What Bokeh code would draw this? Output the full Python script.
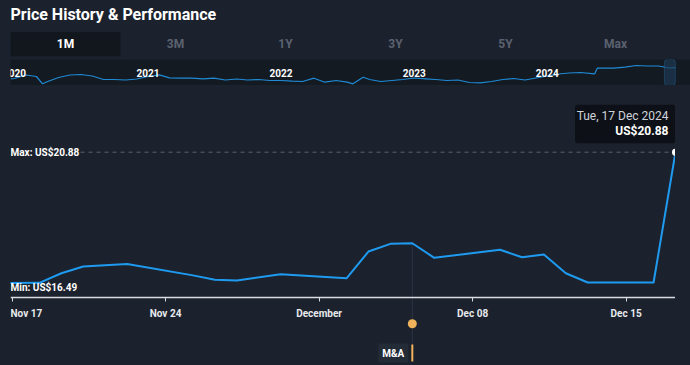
import pandas as pd
from bokeh.plotting import figure
from bokeh.layouts import column
from bokeh.models import Range1d, FactorRange, FixedTicker, Label, BoxAnnotation, LinearAxis
from bokeh.core.properties import value
from bokeh.embed import file_html
from bokeh.resources import INLINE

# ---------------- data ----------------
title_text = "Price History & Performance"
tab_labels = ["1M", "3M", "1Y", "3Y", "5Y", "Max"]
active_tab = "1M"
currency = "US$"

price_dates = ["2024-11-15", "2024-11-18", "2024-11-19", "2024-11-20", "2024-11-21", "2024-11-22",
               "2024-11-25", "2024-11-26", "2024-11-27", "2024-11-29", "2024-12-02", "2024-12-03",
               "2024-12-04", "2024-12-05", "2024-12-06", "2024-12-09", "2024-12-10", "2024-12-11",
               "2024-12-12", "2024-12-13", "2024-12-16", "2024-12-17"]
price_values = [16.47, 16.49, 16.81, 17.04, 17.08, 17.12,
                16.74, 16.59, 16.57, 16.78, 16.64, 17.54,
                17.80, 17.82, 17.33, 17.60, 17.35, 17.44,
                16.81, 16.50, 16.50, 20.88]
window_start = "2024-11-17"

tick_dates = ["2024-11-17", "2024-11-24", "2024-12-01", "2024-12-08", "2024-12-15"]
tick_labels = ["Nov 17", "Nov 24", "December", "Dec 08", "Dec 15"]

event_dates = ["2024-12-05"]
event_labels = ["M&A"]

nav_dates = ["2019-12-21", "2020-01-01", "2020-02-01", "2020-03-01", "2020-03-18", "2020-04-01",
             "2020-05-01", "2020-06-01", "2020-07-01", "2020-08-01", "2020-09-01", "2020-10-01",
             "2020-11-01", "2020-12-01", "2021-01-01", "2021-02-01", "2021-03-01", "2021-04-01",
             "2021-05-01", "2021-06-01", "2021-07-01", "2021-08-01", "2021-09-01", "2021-10-01",
             "2021-11-01", "2021-12-01", "2022-01-01", "2022-02-01", "2022-03-01", "2022-04-01",
             "2022-05-01", "2022-06-01", "2022-07-01", "2022-07-17", "2022-08-14", "2022-09-01",
             "2022-10-01", "2022-11-01", "2022-12-01", "2023-01-01", "2023-02-01", "2023-03-01",
             "2023-04-01", "2023-05-01", "2023-06-01", "2023-07-01", "2023-08-01", "2023-09-01",
             "2023-10-01", "2023-11-01", "2023-12-01", "2024-01-01", "2024-02-01", "2024-03-01",
             "2024-04-01", "2024-05-10", "2024-05-17", "2024-06-01", "2024-07-01", "2024-08-01",
             "2024-09-01", "2024-10-01", "2024-11-01", "2024-12-01", "2024-12-17"]
nav_values = [11.45, 11.70, 13.45, 12.70, 9.05, 10.20,
              12.20, 13.45, 13.70, 12.95, 11.20, 11.20,
              10.95, 11.45, 12.70, 13.55, 12.05, 11.85,
              11.85, 11.55, 11.85, 10.95, 11.45, 10.95,
              11.20, 10.70, 10.70, 10.35, 10.20, 11.85,
              9.85, 10.70, 9.85, 9.05, 12.35, 11.20,
              10.20, 10.70, 11.20, 11.95, 11.55, 11.20,
              10.70, 10.95, 9.70, 9.55, 10.20, 11.20,
              11.70, 10.95, 11.95, 12.95, 13.95, 14.45,
              14.70, 14.05, 16.85, 16.85, 16.85, 17.35,
              18.20, 17.95, 17.95, 16.95, 17.10]
nav_year_labels = ["2020", "2021", "2022", "2023", "2024"]

# ---------------- style ----------------
BG = "#1b222d"
NAV_BG = "#141a22"
FONT = "Roboto"
BLUE = "#1e9bf0"
ORANGE = "#f0b25a"
DAY = 86400000
NO_BORDER = dict(min_border=0, min_border_left=0, min_border_right=0, min_border_top=0, min_border_bottom=0)


def ms(s):
    return int(pd.Timestamp(s).value // 10**6)


price_ms = [ms(d) for d in price_dates]
last_ms = price_ms[-1]
last_val = price_values[-1]
win_ms = ms(window_start)
vis = [v for t, v in zip(price_ms, price_values) if t >= win_ms]
vmax, vmin = max(vis), min(vis)

# ---------------- header (title + tabs) ----------------
HDR_H = 54
hdr = figure(width=660, height=HDR_H, x_range=FactorRange(factors=tab_labels), y_range=Range1d(HDR_H, 0),
             x_axis_location=None, y_axis_location=None, toolbar_location=None, output_backend="svg",
             background_fill_color=BG, border_fill_color=BG, outline_line_color=None, **NO_BORDER)
hdr.xgrid.visible = False
hdr.ygrid.visible = False
hdr.rect(x=[active_tab], y=38.7, width=1, height=24, fill_color="#12161d", line_color=None)
hdr.text(x=tab_labels, y=38.7, text=tab_labels,
         text_color=["#ffffff" if t == active_tab else "#5b6170" for t in tab_labels],
         text_font=value(FONT), text_font_size="12px", text_font_style="bold",
         text_align="center", text_baseline="middle")
hdr.add_layout(Label(x=0, x_units="screen", y=8.5, text=title_text, text_color="#ffffff",
                     text_font=FONT, text_font_size="16px", text_font_style="bold",
                     text_baseline="middle"))

# ---------------- navigator ----------------
NAV_W = 680
nav_start = ms("2019-12-21")
nav_end = nav_start + NAV_W / 133.2 * 365.25 * DAY
nav = figure(width=NAV_W, height=26, x_range=Range1d(nav_start, nav_end), y_range=Range1d(8.2, 21.2),
             x_axis_location=None, y_axis_location=None, toolbar_location=None, output_backend="svg",
             background_fill_color=NAV_BG, border_fill_color=NAV_BG, outline_line_color=None, **NO_BORDER)
nav.xgrid.visible = False
nav.ygrid.visible = False
nav.line([ms(d) for d in nav_dates], nav_values, line_color="#1f8ad6", line_width=1.2)
nav.text(x=[ms(y + "-01-01") for y in nav_year_labels], y=(8.2 + 21.2) / 2, text=nav_year_labels,
         text_color="#ffffff", text_font=value(FONT), text_font_size="10px", text_font_style="bold",
         text_align="center", text_baseline="middle")
nav.add_layout(BoxAnnotation(left=win_ms, right=last_ms, fill_color="#1d3a57", fill_alpha=0.65,
                             line_color="#2b86c8", line_width=1, border_radius=3))

# ---------------- main chart ----------------
MAIN_TOP = 85          # page y of the main figure top
MAIN_H = 278
FRAME_L, FRAME_R = 10, 675
MAX_PY, MIN_PY = 151.7, 282.3
ppx = (vmax - vmin) / (MIN_PY - MAX_PY)


def y_at(py):
    return vmax - (py - MAX_PY) * ppx


x1 = last_ms
x0 = last_ms - 30.32 * DAY


def x_at(px):
    return x0 + (px - FRAME_L) / (FRAME_R - FRAME_L) * (x1 - x0)


p = figure(width=FRAME_R - FRAME_L, height=MAIN_H, x_range=Range1d(x0, x1),
           y_range=Range1d(y_at(MAIN_TOP + MAIN_H), y_at(MAIN_TOP)),
           x_axis_location=None, y_axis_location=None, toolbar_location=None, output_backend="svg",
           background_fill_color=BG, border_fill_color=BG, outline_line_color=None, **NO_BORDER)
p.xgrid.visible = False
p.ygrid.visible = False

axis_y = y_at(297)
tick_ms = [ms(d) - 6 * 3600 * 1000 for d in tick_dates]
ax = LinearAxis(fixed_location=axis_y, ticker=FixedTicker(ticks=tick_ms),
                major_label_overrides={t: l for t, l in zip(tick_ms, tick_labels)},
                axis_line_color="#d9dce1", axis_line_width=1.5,
                major_tick_line_color="#d9dce1", major_tick_in=0, major_tick_out=4,
                minor_tick_line_color=None, major_label_text_color="#e8eaed",
                major_label_text_font=FONT, major_label_text_font_size="10px",
                major_label_text_font_style="bold", major_label_standoff=6)
p.add_layout(ax, "below")

# event marker (behind line)
ev_ms = [ms(d) for d in event_dates]
ev_price = [price_values[price_ms.index(t)] for t in ev_ms]
p.segment(x0=ev_ms, y0=ev_price, x1=ev_ms, y1=y_at(344), line_color="#2c3444", line_width=1)

# max line and hover guide
p.segment(x0=[x_at(80)], y0=[vmax], x1=[last_ms], y1=[vmax], line_color="#5b6373", line_width=1,
          line_dash="4 4")
p.segment(x0=[last_ms], y0=[last_val], x1=[last_ms], y1=[axis_y], line_color="#5b6373", line_width=1,
          line_dash="3 3")

p.line(price_ms, price_values, line_color=BLUE, line_width=2, line_join="round")
p.scatter([last_ms], [last_val], size=7, fill_color="#ffffff", line_color=None)

p.add_layout(Label(x=x0, y=vmax, text=f"Max: {currency}{vmax:.2f}", text_color="#ffffff",
                   text_font=FONT, text_font_size="10px", text_font_style="bold", text_baseline="middle"))
p.add_layout(Label(x=x0, y=y_at(287), text=f"Min: {currency}{vmin:.2f}", text_color="#ffffff",
                   text_font=FONT, text_font_size="10px", text_font_style="bold", text_baseline="middle"))

# event dot + label
p.scatter(ev_ms, [y_at(323.3)] * len(ev_ms), size=9, fill_color=ORANGE, line_color=None)
for t, lab in zip(ev_ms, event_labels):
    p.add_layout(Label(x=t, y=y_at(352.5), x_offset=-4, text=lab, text_color="#ffffff",
                       text_font=FONT, text_font_size="10px", text_font_style="bold",
                       text_align="right", text_baseline="middle",
                       background_fill_color="#232b37", padding=4))
p.segment(x0=ev_ms, y0=y_at(344), x1=ev_ms, y1=y_at(361), line_color=ORANGE, line_width=2)

# tooltip
p.add_layout(BoxAnnotation(left=x_at(574.5), right=last_ms, top=y_at(104.3), bottom=y_at(142.7),
                           fill_color="#0d1117", fill_alpha=1, line_alpha=0, border_radius=3))
p.add_layout(Label(x=last_ms, y=y_at(115.5), x_offset=-7,
                   text=pd.Timestamp(last_ms, unit="ms").strftime("%a, %d %b %Y"),
                   text_color="#cfd3da", text_font=FONT, text_font_size="12px",
                   text_align="right", text_baseline="middle"))
p.add_layout(Label(x=last_ms, y=y_at(130.5), x_offset=-7, text=f"{currency}{last_val:.2f}",
                   text_color="#ffffff", text_font=FONT, text_font_size="12px", text_font_style="bold",
                   text_align="right", text_baseline="middle"))

root = column(hdr, nav, p, spacing=0,
              styles={"position": "relative", "top": "5px", "left": "10px", "margin-bottom": "-10px",
                      "background-color": BG, "box-shadow": "0 0 0 40px " + BG})

open("out.html", "w").write(file_html(root, INLINE))
